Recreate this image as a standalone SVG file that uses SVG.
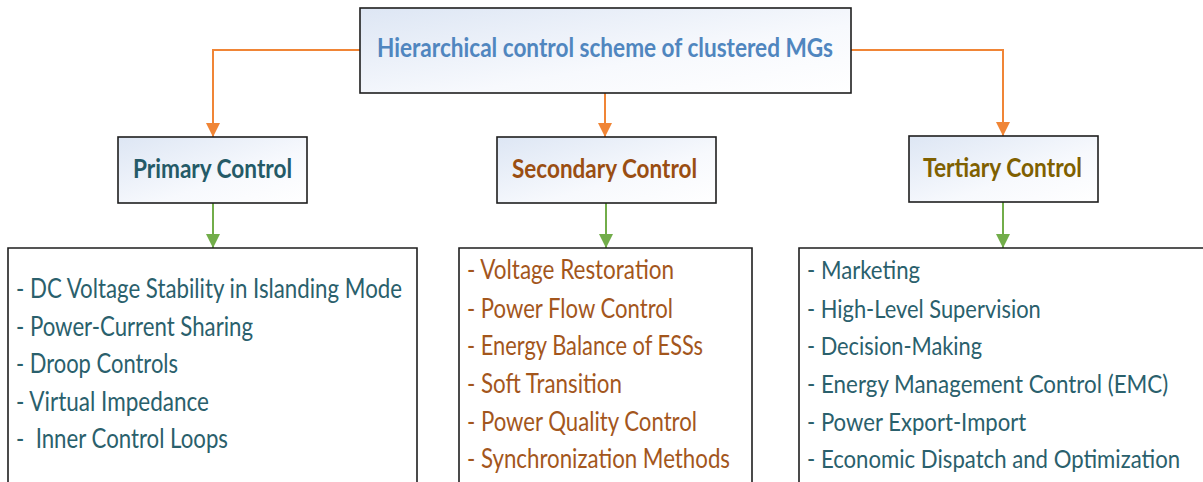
<svg xmlns="http://www.w3.org/2000/svg" width="1203" height="482" viewBox="0 0 1203 482">
<style>
.box{stroke:#1e1e1e;stroke-width:1.6}
.list{fill:#ffffff;stroke:#1e1e1e;stroke-width:1.6}
.t{font-family:Lato,"Open Sans","Liberation Sans",sans-serif;font-weight:bold;font-size:26px}
.li{font-family:Lato,"Open Sans","Liberation Sans",sans-serif;font-size:26px}
.teal{fill:#2a606c}
.brown{fill:#a3561c}
.or{fill:none;stroke:#f08536;stroke-width:2}
.gr{fill:none;stroke:#72ad4a;stroke-width:2}
</style>
<defs>
<linearGradient id="g" x1="0" y1="0" x2="1" y2="1">
<stop offset="0" stop-color="#dde6f4"/>
<stop offset="0.6" stop-color="#f7f9fd"/>
<stop offset="1" stop-color="#ffffff"/>
</linearGradient>
<marker id="ao" markerUnits="userSpaceOnUse" markerWidth="14" markerHeight="14" viewBox="0 0 12 12" refX="12" refY="6" orient="auto">
<path d="M0,0 L12,6 L0,12 z" fill="#f08536"/>
</marker>
<marker id="ag" markerUnits="userSpaceOnUse" markerWidth="14" markerHeight="14" viewBox="0 0 12 12" refX="12" refY="6" orient="auto">
<path d="M0,0 L12,6 L0,12 z" fill="#72ad4a"/>
</marker>
</defs>
<rect width="1203" height="482" fill="#ffffff"/>
<g id="connectors">
<path class="or" d="M360,50 H213 V137" marker-end="url(#ao)"/>
<path class="or" d="M605,93 V137" marker-end="url(#ao)"/>
<path class="or" d="M851,50 H1003 V136" marker-end="url(#ao)"/>
<path class="gr" d="M213,203 V248" marker-end="url(#ag)"/>
<path class="gr" d="M606,203 V248" marker-end="url(#ag)"/>
<path class="gr" d="M1003,202 V248" marker-end="url(#ag)"/>
</g>
<g id="root">
<rect class="box" x="360" y="8" width="491" height="85" fill="url(#g)"/>
<text class="t" x="377" y="57" textLength="456" lengthAdjust="spacingAndGlyphs" fill="#5086bf">Hierarchical control scheme of clustered MGs</text>
</g>
<g id="primary">
<rect class="box" x="118" y="137" width="189" height="66" fill="url(#g)"/>
<text class="t" x="133" y="178" textLength="159" lengthAdjust="spacingAndGlyphs" fill="#245a67">Primary Control</text>
</g>
<g id="secondary">
<rect class="box" x="497" y="137" width="219" height="66" fill="url(#g)"/>
<text class="t" x="512" y="178" textLength="185" lengthAdjust="spacingAndGlyphs" fill="#9a4e12">Secondary Control</text>
</g>
<g id="tertiary">
<rect class="box" x="909" y="136" width="189" height="66" fill="url(#g)"/>
<text class="t" x="923" y="177" textLength="159" lengthAdjust="spacingAndGlyphs" fill="#7f6000">Tertiary Control</text>
</g>
<g id="primary-list">
<path class="list" d="M8,482 V248 H417 V482"/>
<text class="li teal" x="16" y="298" textLength="386" lengthAdjust="spacingAndGlyphs">- DC Voltage Stability in Islanding Mode</text>
<text class="li teal" x="16" y="336" textLength="237" lengthAdjust="spacingAndGlyphs">- Power-Current Sharing</text>
<text class="li teal" x="16" y="373" textLength="162" lengthAdjust="spacingAndGlyphs">- Droop Controls</text>
<text class="li teal" x="16" y="411" textLength="193" lengthAdjust="spacingAndGlyphs">- Virtual Impedance</text>
<text class="li teal" x="16" y="448" textLength="212" lengthAdjust="spacingAndGlyphs" xml:space="preserve">-  Inner Control Loops</text>
</g>
<g id="secondary-list">
<path class="list" d="M459,482 V248 H752 V482"/>
<text class="li brown" x="467" y="279" textLength="207" lengthAdjust="spacingAndGlyphs">- Voltage Restoration</text>
<text class="li brown" x="467" y="318" textLength="206" lengthAdjust="spacingAndGlyphs">- Power Flow Control</text>
<text class="li brown" x="467" y="355" textLength="236" lengthAdjust="spacingAndGlyphs">- Energy Balance of ESSs</text>
<text class="li brown" x="467" y="393" textLength="155" lengthAdjust="spacingAndGlyphs">- Soft Transition</text>
<text class="li brown" x="467" y="431" textLength="230" lengthAdjust="spacingAndGlyphs">- Power Quality Control</text>
<text class="li brown" x="467" y="468" textLength="263" lengthAdjust="spacingAndGlyphs">- Synchronization Methods</text>
</g>
<g id="tertiary-list">
<path class="list" d="M799,482 V248 H1203"/>
<text class="li teal" transform="translate(807,279) scale(0.85,1)" x="0" y="0" textLength="133" lengthAdjust="spacingAndGlyphs">- Marketing</text>
<text class="li teal" transform="translate(807,318) scale(0.85,1)" x="0" y="0" textLength="275" lengthAdjust="spacingAndGlyphs">- High-Level Supervision</text>
<text class="li teal" transform="translate(807,355) scale(0.85,1)" x="0" y="0" textLength="206" lengthAdjust="spacingAndGlyphs">- Decision-Making</text>
<text class="li teal" transform="translate(807,393) scale(0.85,1)" x="0" y="0" textLength="425" lengthAdjust="spacingAndGlyphs">- Energy Management Control (EMC)</text>
<text class="li teal" transform="translate(807,431) scale(0.85,1)" x="0" y="0" textLength="258" lengthAdjust="spacingAndGlyphs">- Power Export-Import</text>
<text class="li teal" transform="translate(807,468) scale(0.85,1)" x="0" y="0" textLength="439" lengthAdjust="spacingAndGlyphs">- Economic Dispatch and Optimization</text>
</g>
</svg>
